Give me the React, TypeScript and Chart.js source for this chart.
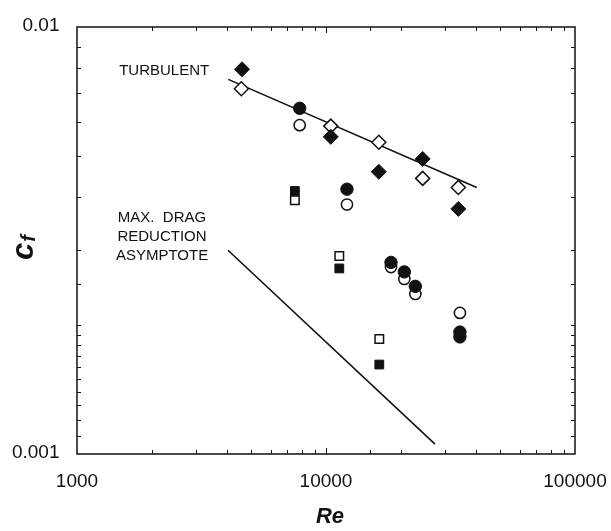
import React, { useEffect, useRef } from 'react';
import { Chart, registerables } from 'chart.js';

Chart.register(...registerables);

// ---- Data (Re, Cf) ----
const reFilledDiamond = [4600, 10450, 16300, 24450, 34000];
const cfFilledDiamond = [0.00796, 0.00553, 0.00458, 0.00491, 0.00375];

const reOpenDiamond = [4570, 10450, 16300, 24450, 34000];
const cfOpenDiamond = [0.00717, 0.00586, 0.00537, 0.00442, 0.00421];

const reFilledCircle = [7840, 12140, 18240, 20630, 22840, 34500, 34500];
const cfFilledCircle = [0.00645, 0.00417, 0.00281, 0.00267, 0.00247, 0.00193, 0.00188];

const reOpenCircle = [7840, 12140, 18240, 20630, 22840, 34500];
const cfOpenCircle = [0.00589, 0.00384, 0.00274, 0.00257, 0.00237, 0.00214];

const reFilledSquare = [7500, 11310, 16370];
const cfFilledSquare = [0.00413, 0.00272, 0.00162];

const reOpenSquare = [7500, 11310, 16370];
const cfOpenSquare = [0.00393, 0.00291, 0.00186];

const reTurbulent = [4050, 40300];
const cfTurbulent = [0.00754, 0.00421];

const reMDR = [4040, 27400];
const cfMDR = [0.0030, 0.001055];

const xTickValues = [1000, 10000, 100000];
const xTickLabels = ['1000', '10000', '100000'];
const yTickValues = [0.001, 0.01];
const yTickLabels = ['0.001', '0.01'];

const annotationTexts = ['TURBULENT', 'MAX.  DRAG', 'REDUCTION', 'ASYMPTOTE'];
const annotationRe = [2240, 2195, 2195, 2195];
const annotationCf = [0.00791, 0.00357, 0.00323, 0.00291];

const FONT = '"Liberation Sans", Arial, Helvetica, sans-serif';
const INK = '#111111';

const pts = (xs: number[], ys: number[]) => xs.map((x, i) => ({ x, y: ys[i] }));

const isDecade = (v: number) => {
  const l = Math.log10(v);
  return Math.abs(l - Math.round(l)) < 1e-6;
};

const framePlugin = {
  id: 'frameAndText',
  afterDraw(chart: any) {
    const { ctx, chartArea: a } = chart;
    const xs = chart.scales.x;
    const ys = chart.scales.y;
    ctx.save();
    ctx.strokeStyle = INK;
    ctx.lineWidth = 1.5;
    ctx.strokeRect(a.left, a.top, a.right - a.left, a.bottom - a.top);
    ctx.lineWidth = 1;
    ctx.beginPath();
    xs.ticks.forEach((t: any) => {
      const p = Math.round(xs.getPixelForValue(t.value)) + 0.5;
      if (p <= a.left + 1 || p >= a.right - 1) return;
      const len = isDecade(t.value) ? 6 : 4;
      ctx.moveTo(p, a.bottom);
      ctx.lineTo(p, a.bottom - len);
      ctx.moveTo(p, a.top);
      ctx.lineTo(p, a.top + len);
    });
    ys.ticks.forEach((t: any) => {
      const p = Math.round(ys.getPixelForValue(t.value)) + 0.5;
      if (p <= a.top + 1 || p >= a.bottom - 1) return;
      const len = isDecade(t.value) ? 6 : 4;
      ctx.moveTo(a.left, p);
      ctx.lineTo(a.left + len, p);
      ctx.moveTo(a.right, p);
      ctx.lineTo(a.right - len, p);
    });
    ctx.stroke();

    // tick labels
    ctx.fillStyle = INK;
    ctx.font = `19px ${FONT}`;
    ctx.textBaseline = 'alphabetic';
    ctx.textAlign = 'center';
    xTickValues.forEach((v, i) => {
      ctx.fillText(xTickLabels[i], xs.getPixelForValue(v), a.bottom + 33);
    });
    ctx.textAlign = 'right';
    yTickValues.forEach((v, i) => {
      ctx.fillText(yTickLabels[i], a.left - 17.5, ys.getPixelForValue(v) + 4);
    });

    // annotations
    ctx.font = `15px ${FONT}`;
    ctx.textAlign = 'center';
    ctx.textBaseline = 'middle';
    annotationTexts.forEach((txt, i) => {
      ctx.fillText(txt, xs.getPixelForValue(annotationRe[i]), ys.getPixelForValue(annotationCf[i]));
    });

    // x title
    ctx.font = `bold italic 22px ${FONT}`;
    ctx.textAlign = 'center';
    ctx.textBaseline = 'alphabetic';
    ctx.fillText('Re', (a.left + a.right) / 2 + 4, 523);

    // y title: c with subscript f, rotated
    ctx.translate(33, 260);
    ctx.rotate(-Math.PI / 2);
    ctx.textAlign = 'left';
    ctx.font = `bold italic 31px ${FONT}`;
    ctx.fillText('c', 0, 0);
    const w = ctx.measureText('c').width;
    ctx.font = `bold italic 20px ${FONT}`;
    ctx.fillText('f', w + 1, 2);
    ctx.restore();
  },
};

export default function App() {
  const ref = useRef<HTMLCanvasElement>(null);
  useEffect(() => {
    document.body.style.margin = '0';
    const canvas = ref.current;
    if (!canvas) return;
    const filled = (label: string, xs: number[], ys: number[], style: string, r: number) => ({
      label,
      data: pts(xs, ys),
      pointStyle: style,
      pointRadius: r,
      backgroundColor: INK,
      borderColor: INK,
      borderWidth: 1,
      showLine: false,
    });
    const open = (label: string, xs: number[], ys: number[], style: string, r: number) => ({
      label,
      data: pts(xs, ys),
      pointStyle: style,
      pointRadius: r,
      backgroundColor: '#ffffff',
      borderColor: INK,
      borderWidth: 1.5,
      showLine: false,
    });
    const line = (label: string, xs: number[], ys: number[]) => ({
      label,
      data: pts(xs, ys),
      pointRadius: 0,
      borderColor: INK,
      borderWidth: 1.6,
      showLine: true,
      fill: false,
    });
    const chart = new Chart(canvas, {
      type: 'scatter',
      data: {
        datasets: [
          filled('filled diamond', reFilledDiamond, cfFilledDiamond, 'rectRot', 7.5),
          filled('filled circle', reFilledCircle, cfFilledCircle, 'circle', 6.2),
          filled('filled square', reFilledSquare, cfFilledSquare, 'rect', 6.2),
          open('open diamond', reOpenDiamond, cfOpenDiamond, 'rectRot', 7),
          open('open circle', reOpenCircle, cfOpenCircle, 'circle', 5.6),
          open('open square', reOpenSquare, cfOpenSquare, 'rect', 6),
          line('turbulent', reTurbulent, cfTurbulent),
          line('max drag reduction asymptote', reMDR, cfMDR),
        ] as any,
      },
      options: {
        responsive: false,
        animation: false,
        devicePixelRatio: 1,
        layout: { padding: { top: 27, right: 36, left: 0, bottom: 0 } },
        plugins: { legend: { display: false }, tooltip: { enabled: false } },
        scales: {
          x: {
            type: 'logarithmic',
            min: 1000,
            max: 100000,
            grid: { display: false, drawTicks: false },
            border: { display: false },
            ticks: { display: false, autoSkip: false },
            afterFit: (s: any) => {
              s.height = 77;
            },
          },
          y: {
            type: 'logarithmic',
            min: 0.001,
            max: 0.01,
            grid: { display: false, drawTicks: false },
            border: { display: false },
            ticks: { display: false, autoSkip: false },
            afterFit: (s: any) => {
              s.width = 77;
            },
          },
        },
      } as any,
      plugins: [framePlugin],
    });
    return () => chart.destroy();
  }, []);
  return (
    <div style={{ position: 'absolute', left: 0, top: 0, width: 611, height: 531, background: '#fff' }}>
      <canvas ref={ref} width={611} height={531} style={{ display: 'block' }} />
    </div>
  );
}
